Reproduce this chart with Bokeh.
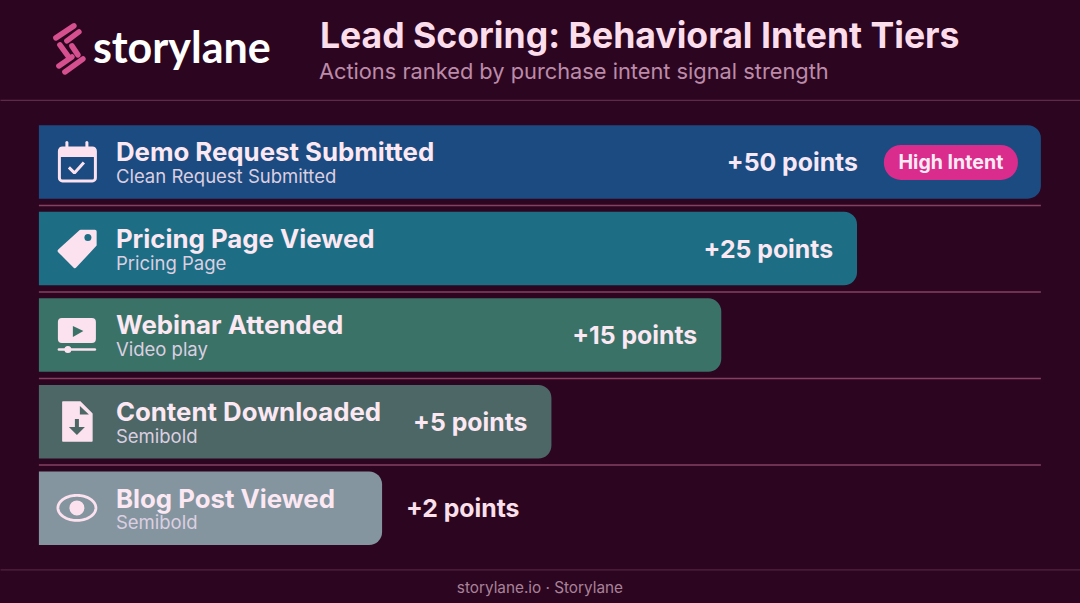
import numpy as np
from bokeh.plotting import figure
from bokeh.models import Range1d, ColumnDataSource
from bokeh.core.properties import value
from bokeh.embed import file_html
from bokeh.resources import INLINE

categories = ["Demo Request Submitted", "Pricing Page Viewed", "Webinar Attended",
              "Content Downloaded", "Blog Post Viewed"]
sublabels = ["Clean Request Submitted", "Pricing Page", "Video play", "Semibold", "Semibold"]
points = [50, 25, 15, 5, 2]
bar_share = [100.0, 81.65, 68.1, 51.15, 34.25]   # bar length, % of the full track
bar_colors = ["#1B4B80", "#1D6E85", "#3A7268", "#4C6766", "#8495A0"]
title = "Lead Scoring: Behavioral Intent Tiers"
subtitle = "Actions ranked by purchase intent signal strength"
footer = "storylane.io · Storylane"
badge = "High Intent"

BG = "#2C0620"
FONT = value("Inter")

p = figure(width=1080, height=603, output_backend="svg", toolbar_location=None,
           x_range=Range1d(0.6, 1080.6), y_range=Range1d(603.6, 0.6),
           background_fill_color=BG, border_fill_color=BG, outline_line_color=None,
           min_border=0)
p.axis.visible = False
p.grid.visible = False

X0, TRACK = 39, 1002
rows_y = [162, 248.6, 335.2, 421.8, 508.4]
H = 73.5
n = len(categories)
right = [X0 + TRACK * s / 100 for s in bar_share]
src = ColumnDataSource(dict(
    left=[X0] * n, right=right,
    top=[y - H / 2 for y in rows_y], bottom=[y + H / 2 for y in rows_y],
    color=bar_colors))
p.quad(left="left", right="right", top="top", bottom="bottom", fill_color="color",
       line_color=None, border_radius=(0, 13, 13, 0), source=src)

# rules
for (x0, x1, y, c) in [(0, 1081, 100.5, "#5E2A4A"), (0, 1081, 570, "#51223F")]:
    p.line([x0, x1], [y, y], line_color=c, line_width=1.2)
for y in [205.5, 292, 378.5, 465]:
    p.line([39, 1041], [y, y], line_color="#85405F", line_width=1.5)

def txt(x, y, s, size, color, bold=False, align="left"):
    p.text([x], [y], text=[s], text_font=FONT, text_font_size=f"{size}px",
           text_font_style="bold" if bold else "normal", text_color=color,
           text_align=align, text_baseline="middle")

# header
txt(320, 36, title, 35.6, "#FCDDEC", True)
txt(319, 71, subtitle, 21.8, "#BC8BA9")
p.text([93], [47], text=["storylane"], text_font=value("Lato"), text_font_size="43px",
       text_font_style="bold", text_color="#FFFFFF", text_baseline="middle")
LOGO = "#D6508F"
for seg in [((56, 38), (74, 26)), ((67, 41), (79, 32)), ((60, 45), (68, 56)),
            ((72, 46), (78, 55)), ((59, 66), (72, 57)), ((65, 72), (83, 59))]:
    p.line([seg[0][0], seg[1][0]], [seg[0][1], seg[1][1]], line_color=LOGO,
           line_width=5.5, line_cap="round")

# row texts
for i in range(n):
    y = rows_y[i]
    txt(116, y - 10.3, categories[i], 25.8, "#FBE8F2", True)
    txt(116, y + 14, sublabels[i], 18.5, "#DCCFE0", False)
    label = f"+{points[i]} points"
    if i == n - 1:
        txt(406, y, label, 24.8, "#FBE0EC", True)
    elif i == 0:
        txt(858, y, label, 24.8, "#F6E8F6", True, "right")
    else:
        txt(right[i] - 24, y, label, 24.8, "#FBE8F2", True, "right")

# badge
p.quad(left=[884], right=[1018], top=[145], bottom=[180], fill_color="#D92C8C",
       line_color=None, border_radius=17)
txt(951, 162.5, badge, 19.6, "#FCEAF4", True, "center")

# icons
IC = "#FBE2EE"
# calendar
p.quad(left=[59.5], right=[95.5], top=[148], bottom=[181], fill_color=bar_colors[0],
       line_color=IC, line_width=3, border_radius=3)
p.quad(left=[59], right=[96], top=[147], bottom=[157], fill_color=IC, line_color=None,
       border_radius=(3, 3, 0, 0))
for x in (67, 87):
    p.line([x, x], [142.5, 149], line_color=IC, line_width=3, line_cap="round")
p.line([69, 74.5, 84], [167.5, 173, 162.5], line_color=IC, line_width=3)
# tag
p.patch([81, 95, 95, 75, 59.5], [231.5, 231.5, 245, 266.5, 251], fill_color=IC, line_color=IC,
        line_width=3.5, line_join="round")
p.scatter([88], [237.5], size=7, fill_color=bar_colors[1], line_color=None)
# play
p.quad(left=[58], right=[96], top=[318], bottom=[343], fill_color=IC, line_color=None,
       border_radius=4)
p.patch([73, 83.5, 73], [326, 331, 337], fill_color=bar_colors[2], line_color=None)
p.line([59, 95], [349.5, 349.5], line_color=IC, line_width=2.5, line_cap="round")
p.scatter([68], [349.5], size=7, fill_color=IC, line_color=None)
# document
p.patch([63, 80, 92, 92, 63], [402, 402, 414, 441, 441], fill_color=IC, line_color=IC,
        line_width=1.5, line_join="round")
p.patch([80, 89, 80], [406, 414.5, 414.5], fill_color=bar_colors[3], line_color=None)
p.line([77, 77], [419, 428], line_color=bar_colors[3], line_width=4)
p.patch([69, 85, 77], [427, 427, 435], fill_color=bar_colors[3], line_color=None)
# eye
t = np.linspace(0, np.pi, 40)
ex = 77 + 19 * np.cos(t)
eh = 12.5 * np.sin(t) ** 1.0
p.patch(np.r_[ex, ex[::-1]], np.r_[508 - eh, 508 + eh[::-1]], fill_color=None,
        line_color=IC, line_width=2.8, line_join="round")
p.scatter([77], [508], size=15, fill_color=IC, line_color=None)

# footer
txt(540, 587.5, footer, 15.3, "#A98299", False, "center")

html = file_html(p, INLINE)
html = html.replace("<head>", f"<head><style>html,body{{margin:0;padding:0;background:{BG};overflow:hidden}}</style>", 1)
open("out.html", "w").write(html)
